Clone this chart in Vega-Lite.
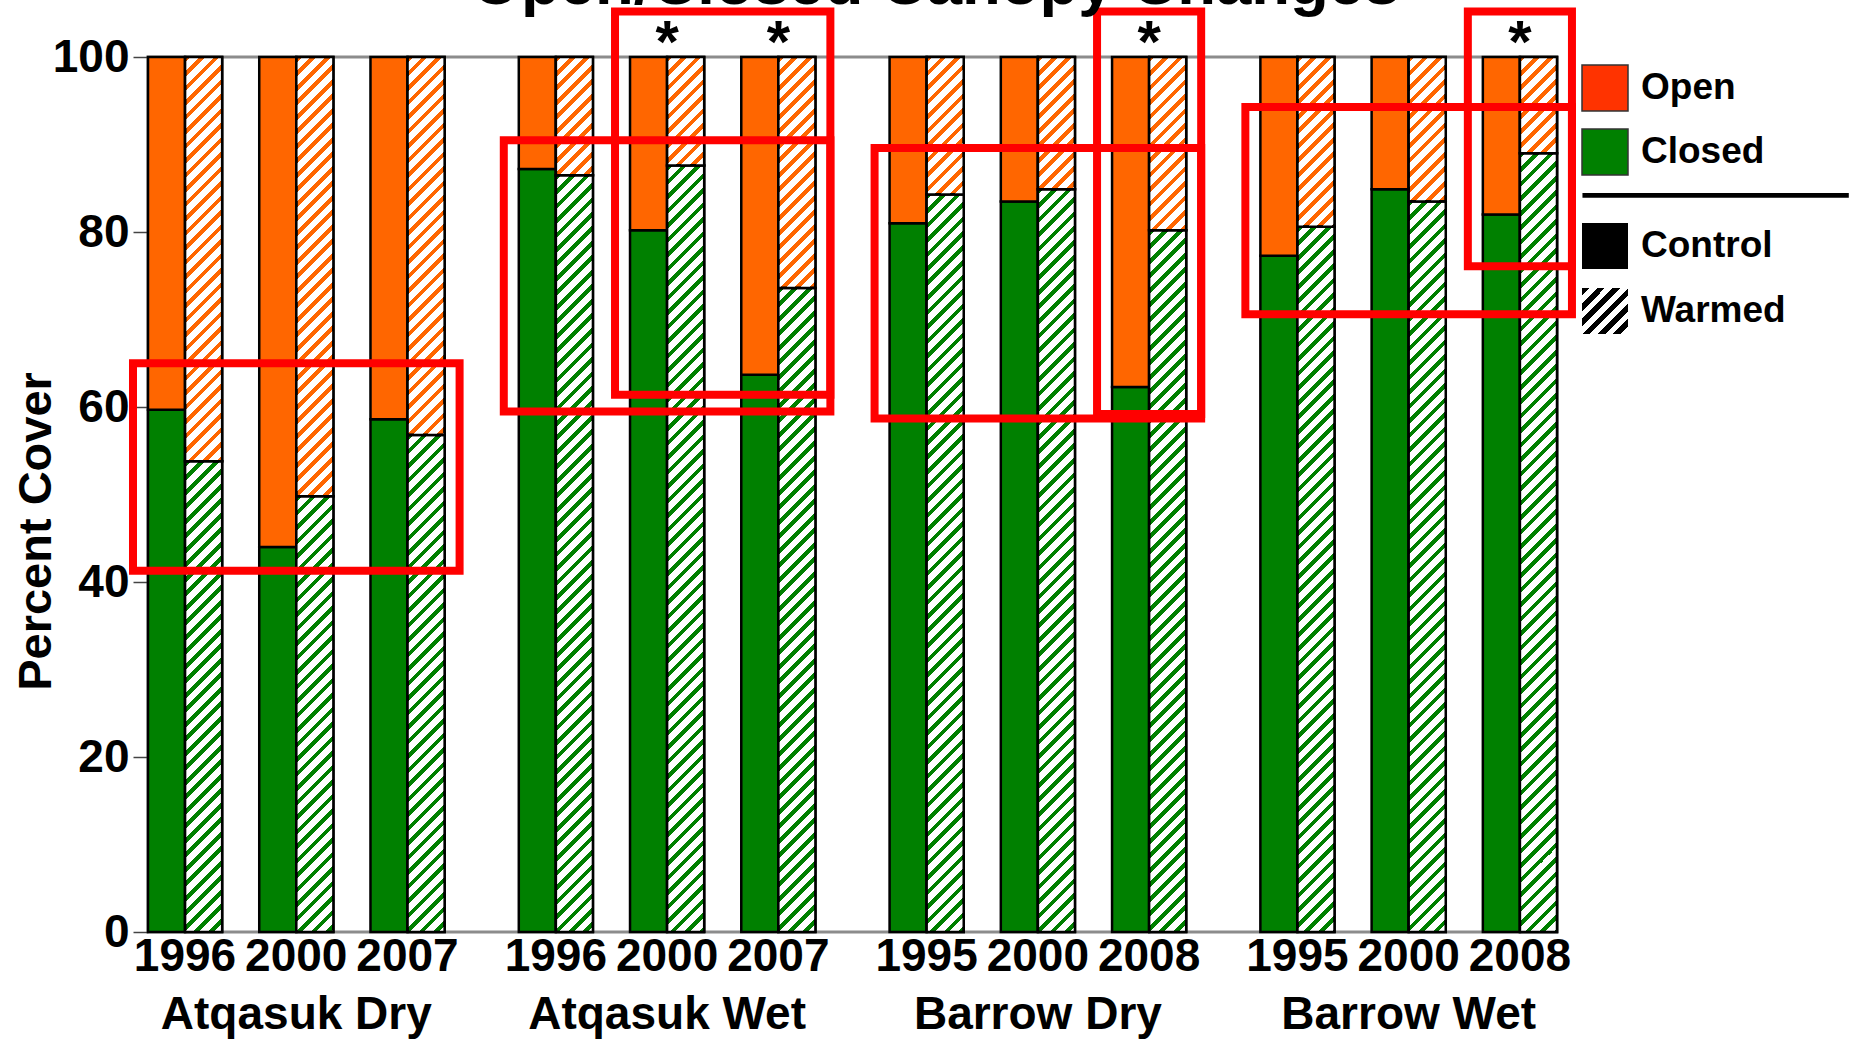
{
  "$schema": "https://vega.github.io/schema/vega-lite/v6.json",
  "width": 1409,
  "height": 875,
  "autosize": {"type": "none"},
  "padding": {"left": 148, "top": 57, "right": 303, "bottom": 112},
  "background": "white",
  "config": {
    "font": "Liberation Sans",
    "view": {"stroke": "#8c8c8c", "strokeWidth": 3}
  },
  "title": {
    "text": "Open/Closed Canopy Changes",
    "font": "Liberation Sans",
    "fontSize": 63.5,
    "fontWeight": "bold",
    "color": "black",
    "anchor": "middle",
    "frame": "group",
    "offset": -60,
    "baseline": "alphabetic",
    "dx": 83
  },
  "resolve": {"scale": {"color": "independent"}},
  "params": [
    {
      "name": "hatch",
      "value": [
        {"offset": 0, "color": "rgba(255,255,255,0)"}, {"offset": 0.0069, "color": "rgba(255,255,255,0)"}, {"offset": 0.0069, "color": "#fff"}, {"offset": 0.0172, "color": "#fff"},
        {"offset": 0.0172, "color": "rgba(255,255,255,0)"}, {"offset": 0.0241, "color": "rgba(255,255,255,0)"}, {"offset": 0.0241, "color": "#fff"}, {"offset": 0.0345, "color": "#fff"},
        {"offset": 0.0345, "color": "rgba(255,255,255,0)"}, {"offset": 0.0414, "color": "rgba(255,255,255,0)"}, {"offset": 0.0414, "color": "#fff"}, {"offset": 0.0517, "color": "#fff"},
        {"offset": 0.0517, "color": "rgba(255,255,255,0)"}, {"offset": 0.0586, "color": "rgba(255,255,255,0)"}, {"offset": 0.0586, "color": "#fff"}, {"offset": 0.069, "color": "#fff"},
        {"offset": 0.069, "color": "rgba(255,255,255,0)"}, {"offset": 0.0759, "color": "rgba(255,255,255,0)"}, {"offset": 0.0759, "color": "#fff"}, {"offset": 0.0862, "color": "#fff"},
        {"offset": 0.0862, "color": "rgba(255,255,255,0)"}, {"offset": 0.0931, "color": "rgba(255,255,255,0)"}, {"offset": 0.0931, "color": "#fff"}, {"offset": 0.1034, "color": "#fff"},
        {"offset": 0.1034, "color": "rgba(255,255,255,0)"}, {"offset": 0.1103, "color": "rgba(255,255,255,0)"}, {"offset": 0.1103, "color": "#fff"}, {"offset": 0.1207, "color": "#fff"},
        {"offset": 0.1207, "color": "rgba(255,255,255,0)"}, {"offset": 0.1276, "color": "rgba(255,255,255,0)"}, {"offset": 0.1276, "color": "#fff"}, {"offset": 0.1379, "color": "#fff"},
        {"offset": 0.1379, "color": "rgba(255,255,255,0)"}, {"offset": 0.1448, "color": "rgba(255,255,255,0)"}, {"offset": 0.1448, "color": "#fff"}, {"offset": 0.1552, "color": "#fff"},
        {"offset": 0.1552, "color": "rgba(255,255,255,0)"}, {"offset": 0.1621, "color": "rgba(255,255,255,0)"}, {"offset": 0.1621, "color": "#fff"}, {"offset": 0.1724, "color": "#fff"},
        {"offset": 0.1724, "color": "rgba(255,255,255,0)"}, {"offset": 0.1793, "color": "rgba(255,255,255,0)"}, {"offset": 0.1793, "color": "#fff"}, {"offset": 0.1897, "color": "#fff"},
        {"offset": 0.1897, "color": "rgba(255,255,255,0)"}, {"offset": 0.1966, "color": "rgba(255,255,255,0)"}, {"offset": 0.1966, "color": "#fff"}, {"offset": 0.2069, "color": "#fff"},
        {"offset": 0.2069, "color": "rgba(255,255,255,0)"}, {"offset": 0.2138, "color": "rgba(255,255,255,0)"}, {"offset": 0.2138, "color": "#fff"}, {"offset": 0.2241, "color": "#fff"},
        {"offset": 0.2241, "color": "rgba(255,255,255,0)"}, {"offset": 0.231, "color": "rgba(255,255,255,0)"}, {"offset": 0.231, "color": "#fff"}, {"offset": 0.2414, "color": "#fff"},
        {"offset": 0.2414, "color": "rgba(255,255,255,0)"}, {"offset": 0.2483, "color": "rgba(255,255,255,0)"}, {"offset": 0.2483, "color": "#fff"}, {"offset": 0.2586, "color": "#fff"},
        {"offset": 0.2586, "color": "rgba(255,255,255,0)"}, {"offset": 0.2655, "color": "rgba(255,255,255,0)"}, {"offset": 0.2655, "color": "#fff"}, {"offset": 0.2759, "color": "#fff"},
        {"offset": 0.2759, "color": "rgba(255,255,255,0)"}, {"offset": 0.2828, "color": "rgba(255,255,255,0)"}, {"offset": 0.2828, "color": "#fff"}, {"offset": 0.2931, "color": "#fff"},
        {"offset": 0.2931, "color": "rgba(255,255,255,0)"}, {"offset": 0.3, "color": "rgba(255,255,255,0)"}, {"offset": 0.3, "color": "#fff"}, {"offset": 0.3103, "color": "#fff"},
        {"offset": 0.3103, "color": "rgba(255,255,255,0)"}, {"offset": 0.3172, "color": "rgba(255,255,255,0)"}, {"offset": 0.3172, "color": "#fff"}, {"offset": 0.3276, "color": "#fff"},
        {"offset": 0.3276, "color": "rgba(255,255,255,0)"}, {"offset": 0.3345, "color": "rgba(255,255,255,0)"}, {"offset": 0.3345, "color": "#fff"}, {"offset": 0.3448, "color": "#fff"},
        {"offset": 0.3448, "color": "rgba(255,255,255,0)"}, {"offset": 0.3517, "color": "rgba(255,255,255,0)"}, {"offset": 0.3517, "color": "#fff"}, {"offset": 0.3621, "color": "#fff"},
        {"offset": 0.3621, "color": "rgba(255,255,255,0)"}, {"offset": 0.369, "color": "rgba(255,255,255,0)"}, {"offset": 0.369, "color": "#fff"}, {"offset": 0.3793, "color": "#fff"},
        {"offset": 0.3793, "color": "rgba(255,255,255,0)"}, {"offset": 0.3862, "color": "rgba(255,255,255,0)"}, {"offset": 0.3862, "color": "#fff"}, {"offset": 0.3966, "color": "#fff"},
        {"offset": 0.3966, "color": "rgba(255,255,255,0)"}, {"offset": 0.4034, "color": "rgba(255,255,255,0)"}, {"offset": 0.4034, "color": "#fff"}, {"offset": 0.4138, "color": "#fff"},
        {"offset": 0.4138, "color": "rgba(255,255,255,0)"}, {"offset": 0.4207, "color": "rgba(255,255,255,0)"}, {"offset": 0.4207, "color": "#fff"}, {"offset": 0.431, "color": "#fff"},
        {"offset": 0.431, "color": "rgba(255,255,255,0)"}, {"offset": 0.4379, "color": "rgba(255,255,255,0)"}, {"offset": 0.4379, "color": "#fff"}, {"offset": 0.4483, "color": "#fff"},
        {"offset": 0.4483, "color": "rgba(255,255,255,0)"}, {"offset": 0.4552, "color": "rgba(255,255,255,0)"}, {"offset": 0.4552, "color": "#fff"}, {"offset": 0.4655, "color": "#fff"},
        {"offset": 0.4655, "color": "rgba(255,255,255,0)"}, {"offset": 0.4724, "color": "rgba(255,255,255,0)"}, {"offset": 0.4724, "color": "#fff"}, {"offset": 0.4828, "color": "#fff"},
        {"offset": 0.4828, "color": "rgba(255,255,255,0)"}, {"offset": 0.4897, "color": "rgba(255,255,255,0)"}, {"offset": 0.4897, "color": "#fff"}, {"offset": 0.5, "color": "#fff"},
        {"offset": 0.5, "color": "rgba(255,255,255,0)"}, {"offset": 0.5069, "color": "rgba(255,255,255,0)"}, {"offset": 0.5069, "color": "#fff"}, {"offset": 0.5172, "color": "#fff"},
        {"offset": 0.5172, "color": "rgba(255,255,255,0)"}, {"offset": 0.5241, "color": "rgba(255,255,255,0)"}, {"offset": 0.5241, "color": "#fff"}, {"offset": 0.5345, "color": "#fff"},
        {"offset": 0.5345, "color": "rgba(255,255,255,0)"}, {"offset": 0.5414, "color": "rgba(255,255,255,0)"}, {"offset": 0.5414, "color": "#fff"}, {"offset": 0.5517, "color": "#fff"},
        {"offset": 0.5517, "color": "rgba(255,255,255,0)"}, {"offset": 0.5586, "color": "rgba(255,255,255,0)"}, {"offset": 0.5586, "color": "#fff"}, {"offset": 0.569, "color": "#fff"},
        {"offset": 0.569, "color": "rgba(255,255,255,0)"}, {"offset": 0.5759, "color": "rgba(255,255,255,0)"}, {"offset": 0.5759, "color": "#fff"}, {"offset": 0.5862, "color": "#fff"},
        {"offset": 0.5862, "color": "rgba(255,255,255,0)"}, {"offset": 0.5931, "color": "rgba(255,255,255,0)"}, {"offset": 0.5931, "color": "#fff"}, {"offset": 0.6034, "color": "#fff"},
        {"offset": 0.6034, "color": "rgba(255,255,255,0)"}, {"offset": 0.6103, "color": "rgba(255,255,255,0)"}, {"offset": 0.6103, "color": "#fff"}, {"offset": 0.6207, "color": "#fff"},
        {"offset": 0.6207, "color": "rgba(255,255,255,0)"}, {"offset": 0.6276, "color": "rgba(255,255,255,0)"}, {"offset": 0.6276, "color": "#fff"}, {"offset": 0.6379, "color": "#fff"},
        {"offset": 0.6379, "color": "rgba(255,255,255,0)"}, {"offset": 0.6448, "color": "rgba(255,255,255,0)"}, {"offset": 0.6448, "color": "#fff"}, {"offset": 0.6552, "color": "#fff"},
        {"offset": 0.6552, "color": "rgba(255,255,255,0)"}, {"offset": 0.6621, "color": "rgba(255,255,255,0)"}, {"offset": 0.6621, "color": "#fff"}, {"offset": 0.6724, "color": "#fff"},
        {"offset": 0.6724, "color": "rgba(255,255,255,0)"}, {"offset": 0.6793, "color": "rgba(255,255,255,0)"}, {"offset": 0.6793, "color": "#fff"}, {"offset": 0.6897, "color": "#fff"},
        {"offset": 0.6897, "color": "rgba(255,255,255,0)"}, {"offset": 0.6966, "color": "rgba(255,255,255,0)"}, {"offset": 0.6966, "color": "#fff"}, {"offset": 0.7069, "color": "#fff"},
        {"offset": 0.7069, "color": "rgba(255,255,255,0)"}, {"offset": 0.7138, "color": "rgba(255,255,255,0)"}, {"offset": 0.7138, "color": "#fff"}, {"offset": 0.7241, "color": "#fff"},
        {"offset": 0.7241, "color": "rgba(255,255,255,0)"}, {"offset": 0.731, "color": "rgba(255,255,255,0)"}, {"offset": 0.731, "color": "#fff"}, {"offset": 0.7414, "color": "#fff"},
        {"offset": 0.7414, "color": "rgba(255,255,255,0)"}, {"offset": 0.7483, "color": "rgba(255,255,255,0)"}, {"offset": 0.7483, "color": "#fff"}, {"offset": 0.7586, "color": "#fff"},
        {"offset": 0.7586, "color": "rgba(255,255,255,0)"}, {"offset": 0.7655, "color": "rgba(255,255,255,0)"}, {"offset": 0.7655, "color": "#fff"}, {"offset": 0.7759, "color": "#fff"},
        {"offset": 0.7759, "color": "rgba(255,255,255,0)"}, {"offset": 0.7828, "color": "rgba(255,255,255,0)"}, {"offset": 0.7828, "color": "#fff"}, {"offset": 0.7931, "color": "#fff"},
        {"offset": 0.7931, "color": "rgba(255,255,255,0)"}, {"offset": 0.8, "color": "rgba(255,255,255,0)"}, {"offset": 0.8, "color": "#fff"}, {"offset": 0.8103, "color": "#fff"},
        {"offset": 0.8103, "color": "rgba(255,255,255,0)"}, {"offset": 0.8172, "color": "rgba(255,255,255,0)"}, {"offset": 0.8172, "color": "#fff"}, {"offset": 0.8276, "color": "#fff"},
        {"offset": 0.8276, "color": "rgba(255,255,255,0)"}, {"offset": 0.8345, "color": "rgba(255,255,255,0)"}, {"offset": 0.8345, "color": "#fff"}, {"offset": 0.8448, "color": "#fff"},
        {"offset": 0.8448, "color": "rgba(255,255,255,0)"}, {"offset": 0.8517, "color": "rgba(255,255,255,0)"}, {"offset": 0.8517, "color": "#fff"}, {"offset": 0.8621, "color": "#fff"},
        {"offset": 0.8621, "color": "rgba(255,255,255,0)"}, {"offset": 0.869, "color": "rgba(255,255,255,0)"}, {"offset": 0.869, "color": "#fff"}, {"offset": 0.8793, "color": "#fff"},
        {"offset": 0.8793, "color": "rgba(255,255,255,0)"}, {"offset": 0.8862, "color": "rgba(255,255,255,0)"}, {"offset": 0.8862, "color": "#fff"}, {"offset": 0.8966, "color": "#fff"},
        {"offset": 0.8966, "color": "rgba(255,255,255,0)"}, {"offset": 0.9034, "color": "rgba(255,255,255,0)"}, {"offset": 0.9034, "color": "#fff"}, {"offset": 0.9138, "color": "#fff"},
        {"offset": 0.9138, "color": "rgba(255,255,255,0)"}, {"offset": 0.9207, "color": "rgba(255,255,255,0)"}, {"offset": 0.9207, "color": "#fff"}, {"offset": 0.931, "color": "#fff"},
        {"offset": 0.931, "color": "rgba(255,255,255,0)"}, {"offset": 0.9379, "color": "rgba(255,255,255,0)"}, {"offset": 0.9379, "color": "#fff"}, {"offset": 0.9483, "color": "#fff"},
        {"offset": 0.9483, "color": "rgba(255,255,255,0)"}, {"offset": 0.9552, "color": "rgba(255,255,255,0)"}, {"offset": 0.9552, "color": "#fff"}, {"offset": 0.9655, "color": "#fff"},
        {"offset": 0.9655, "color": "rgba(255,255,255,0)"}, {"offset": 0.9724, "color": "rgba(255,255,255,0)"}, {"offset": 0.9724, "color": "#fff"}, {"offset": 0.9828, "color": "#fff"},
        {"offset": 0.9828, "color": "rgba(255,255,255,0)"}, {"offset": 0.9897, "color": "rgba(255,255,255,0)"}, {"offset": 0.9897, "color": "#fff"}, {"offset": 1, "color": "#fff"}
      ]
    },
    {
      "name": "legendHatch",
      "value": [
        {"offset": 0, "color": "black"}, {"offset": 0.0833, "color": "black"}, {"offset": 0.0833, "color": "white"}, {"offset": 0.1667, "color": "white"},
        {"offset": 0.1667, "color": "black"}, {"offset": 0.25, "color": "black"}, {"offset": 0.25, "color": "white"}, {"offset": 0.3333, "color": "white"},
        {"offset": 0.3333, "color": "black"}, {"offset": 0.4167, "color": "black"}, {"offset": 0.4167, "color": "white"}, {"offset": 0.5, "color": "white"},
        {"offset": 0.5, "color": "black"}, {"offset": 0.5833, "color": "black"}, {"offset": 0.5833, "color": "white"}, {"offset": 0.6667, "color": "white"},
        {"offset": 0.6667, "color": "black"}, {"offset": 0.75, "color": "black"}, {"offset": 0.75, "color": "white"}, {"offset": 0.8333, "color": "white"},
        {"offset": 0.8333, "color": "black"}, {"offset": 0.9167, "color": "black"}, {"offset": 0.9167, "color": "white"}, {"offset": 1, "color": "white"}
      ]
    }
  ],
  "datasets": {
    "cover": [
      {"site": "Atqasuk Dry", "year": "1996", "treatment": "Control", "cover": "Closed", "pct": 59.7},
      {"site": "Atqasuk Dry", "year": "1996", "treatment": "Control", "cover": "Open", "pct": 40.3},
      {"site": "Atqasuk Dry", "year": "1996", "treatment": "Warmed", "cover": "Closed", "pct": 53.8},
      {"site": "Atqasuk Dry", "year": "1996", "treatment": "Warmed", "cover": "Open", "pct": 46.2},
      {"site": "Atqasuk Dry", "year": "2000", "treatment": "Control", "cover": "Closed", "pct": 44.0},
      {"site": "Atqasuk Dry", "year": "2000", "treatment": "Control", "cover": "Open", "pct": 56.0},
      {"site": "Atqasuk Dry", "year": "2000", "treatment": "Warmed", "cover": "Closed", "pct": 49.8},
      {"site": "Atqasuk Dry", "year": "2000", "treatment": "Warmed", "cover": "Open", "pct": 50.2},
      {"site": "Atqasuk Dry", "year": "2007", "treatment": "Control", "cover": "Closed", "pct": 58.6},
      {"site": "Atqasuk Dry", "year": "2007", "treatment": "Control", "cover": "Open", "pct": 41.4},
      {"site": "Atqasuk Dry", "year": "2007", "treatment": "Warmed", "cover": "Closed", "pct": 56.8},
      {"site": "Atqasuk Dry", "year": "2007", "treatment": "Warmed", "cover": "Open", "pct": 43.2},
      {"site": "Atqasuk Wet", "year": "1996", "treatment": "Control", "cover": "Closed", "pct": 87.2},
      {"site": "Atqasuk Wet", "year": "1996", "treatment": "Control", "cover": "Open", "pct": 12.8},
      {"site": "Atqasuk Wet", "year": "1996", "treatment": "Warmed", "cover": "Closed", "pct": 86.5},
      {"site": "Atqasuk Wet", "year": "1996", "treatment": "Warmed", "cover": "Open", "pct": 13.5},
      {"site": "Atqasuk Wet", "year": "2000", "treatment": "Control", "cover": "Closed", "pct": 80.2},
      {"site": "Atqasuk Wet", "year": "2000", "treatment": "Control", "cover": "Open", "pct": 19.8},
      {"site": "Atqasuk Wet", "year": "2000", "treatment": "Warmed", "cover": "Closed", "pct": 87.6},
      {"site": "Atqasuk Wet", "year": "2000", "treatment": "Warmed", "cover": "Open", "pct": 12.4},
      {"site": "Atqasuk Wet", "year": "2007", "treatment": "Control", "cover": "Closed", "pct": 63.7},
      {"site": "Atqasuk Wet", "year": "2007", "treatment": "Control", "cover": "Open", "pct": 36.3},
      {"site": "Atqasuk Wet", "year": "2007", "treatment": "Warmed", "cover": "Closed", "pct": 73.6},
      {"site": "Atqasuk Wet", "year": "2007", "treatment": "Warmed", "cover": "Open", "pct": 26.4},
      {"site": "Barrow Dry", "year": "1995", "treatment": "Control", "cover": "Closed", "pct": 81.0},
      {"site": "Barrow Dry", "year": "1995", "treatment": "Control", "cover": "Open", "pct": 19.0},
      {"site": "Barrow Dry", "year": "1995", "treatment": "Warmed", "cover": "Closed", "pct": 84.3},
      {"site": "Barrow Dry", "year": "1995", "treatment": "Warmed", "cover": "Open", "pct": 15.7},
      {"site": "Barrow Dry", "year": "2000", "treatment": "Control", "cover": "Closed", "pct": 83.5},
      {"site": "Barrow Dry", "year": "2000", "treatment": "Control", "cover": "Open", "pct": 16.5},
      {"site": "Barrow Dry", "year": "2000", "treatment": "Warmed", "cover": "Closed", "pct": 84.9},
      {"site": "Barrow Dry", "year": "2000", "treatment": "Warmed", "cover": "Open", "pct": 15.1},
      {"site": "Barrow Dry", "year": "2008", "treatment": "Control", "cover": "Closed", "pct": 62.3},
      {"site": "Barrow Dry", "year": "2008", "treatment": "Control", "cover": "Open", "pct": 37.7},
      {"site": "Barrow Dry", "year": "2008", "treatment": "Warmed", "cover": "Closed", "pct": 80.2},
      {"site": "Barrow Dry", "year": "2008", "treatment": "Warmed", "cover": "Open", "pct": 19.8},
      {"site": "Barrow Wet", "year": "1995", "treatment": "Control", "cover": "Closed", "pct": 77.3},
      {"site": "Barrow Wet", "year": "1995", "treatment": "Control", "cover": "Open", "pct": 22.7},
      {"site": "Barrow Wet", "year": "1995", "treatment": "Warmed", "cover": "Closed", "pct": 80.6},
      {"site": "Barrow Wet", "year": "1995", "treatment": "Warmed", "cover": "Open", "pct": 19.4},
      {"site": "Barrow Wet", "year": "2000", "treatment": "Control", "cover": "Closed", "pct": 84.9},
      {"site": "Barrow Wet", "year": "2000", "treatment": "Control", "cover": "Open", "pct": 15.1},
      {"site": "Barrow Wet", "year": "2000", "treatment": "Warmed", "cover": "Closed", "pct": 83.5},
      {"site": "Barrow Wet", "year": "2000", "treatment": "Warmed", "cover": "Open", "pct": 16.5},
      {"site": "Barrow Wet", "year": "2008", "treatment": "Control", "cover": "Closed", "pct": 82.0},
      {"site": "Barrow Wet", "year": "2008", "treatment": "Control", "cover": "Open", "pct": 18.0},
      {"site": "Barrow Wet", "year": "2008", "treatment": "Warmed", "cover": "Closed", "pct": 89.0},
      {"site": "Barrow Wet", "year": "2008", "treatment": "Warmed", "cover": "Open", "pct": 11.0}
    ],
    "significant": [
      {"site": "Atqasuk Wet", "year": "2000", "flag": "*"},
      {"site": "Atqasuk Wet", "year": "2007", "flag": "*"},
      {"site": "Barrow Dry", "year": "2008", "flag": "*"},
      {"site": "Barrow Wet", "year": "2008", "flag": "*"}
    ],
    "highlights": [
      {"site": "Atqasuk Dry", "first": "1996", "last": "2007", "top": 65.0, "bottom": 41.3},
      {"site": "Atqasuk Wet", "first": "1996", "last": "2007", "top": 90.5, "bottom": 59.5},
      {"site": "Atqasuk Wet", "first": "2000", "last": "2007", "top": 105.2, "bottom": 61.4},
      {"site": "Barrow Dry", "first": "1995", "last": "2008", "top": 89.6, "bottom": 58.7},
      {"site": "Barrow Dry", "first": "2008", "last": "2008", "top": 105.2, "bottom": 59.2},
      {"site": "Barrow Wet", "first": "1995", "last": "2008", "top": 94.3, "bottom": 70.6},
      {"site": "Barrow Wet", "first": "2008", "last": "2008", "top": 105.2, "bottom": 76.1}
    ]
  },
  "layer": [
    {
      "data": {"name": "cover"},
      "transform": [
        {"calculate": "datum.site + '|' + datum.year + '|' + datum.treatment", "as": "bar"}
      ],
      "mark": {"type": "bar", "stroke": "black", "strokeWidth": 2.5},
      "encoding": {
        "x": {
          "field": "bar",
          "type": "nominal",
          "scale": {
            "domain": [
              "Atqasuk Dry|1996|Control", "Atqasuk Dry|1996|Warmed", "gap 1",
              "Atqasuk Dry|2000|Control", "Atqasuk Dry|2000|Warmed", "gap 2",
              "Atqasuk Dry|2007|Control", "Atqasuk Dry|2007|Warmed", "gap 3", "gap 4",
              "Atqasuk Wet|1996|Control", "Atqasuk Wet|1996|Warmed", "gap 5",
              "Atqasuk Wet|2000|Control", "Atqasuk Wet|2000|Warmed", "gap 6",
              "Atqasuk Wet|2007|Control", "Atqasuk Wet|2007|Warmed", "gap 7", "gap 8",
              "Barrow Dry|1995|Control", "Barrow Dry|1995|Warmed", "gap 9",
              "Barrow Dry|2000|Control", "Barrow Dry|2000|Warmed", "gap 10",
              "Barrow Dry|2008|Control", "Barrow Dry|2008|Warmed", "gap 11", "gap 12",
              "Barrow Wet|1995|Control", "Barrow Wet|1995|Warmed", "gap 13",
              "Barrow Wet|2000|Control", "Barrow Wet|2000|Warmed", "gap 14",
              "Barrow Wet|2008|Control", "Barrow Wet|2008|Warmed"
            ],
            "paddingInner": 0,
            "paddingOuter": 0
          },
          "axis": {
            "title": null,
            "domain": false,
            "ticks": false,
            "tickSize": 0,
            "labelAngle": 0,
            "labelExpr": "indexof(datum.value, '|Control') > 0 ? slice(datum.value, -12, -8) : ''",
            "labelOffset": 18.5,
            "labelPadding": 38,
            "labelBaseline": "alphabetic",
            "labelFont": "Liberation Sans",
            "labelFontSize": 46,
            "labelFontWeight": "bold",
            "labelColor": "black",
            "labelOverlap": false,
            "labelBound": false,
            "labelLimit": 0
          }
        },
        "y": {
          "field": "pct",
          "type": "quantitative",
          "stack": "zero",
          "scale": {"domain": [0, 100], "nice": false, "zero": true},
          "axis": {
            "values": [0, 20, 40, 60, 80, 100],
            "grid": false,
            "domain": false,
            "tickSize": 15,
            "tickColor": "#444",
            "tickWidth": 1.5,
            "labelFont": "Liberation Sans",
            "labelFontSize": 46,
            "labelFontWeight": "bold",
            "labelColor": "black",
            "labelPadding": 4,
            "title": "Percent Cover",
            "titleFont": "Liberation Sans",
            "titleFontSize": 47,
            "titleFontWeight": "bold",
            "titleColor": "black",
            "titleAngle": -90,
            "titleAlign": "center",
            "titleBaseline": "alphabetic",
            "titleX": -98,
            "titleY": 474
          }
        },
        "color": {
          "field": "cover",
          "type": "nominal",
          "scale": {"domain": ["Open", "Closed"], "range": ["#ff6600", "#008000"]},
          "legend": null
        },
        "order": {"field": "cover", "type": "nominal", "sort": "ascending"}
      }
    },
    {
      "data": {"name": "cover"},
      "transform": [
        {"filter": "datum.treatment === 'Warmed'"},
        {"calculate": "datum.site + '|' + datum.year + '|' + datum.treatment", "as": "bar"}
      ],
      "mark": {
        "type": "bar",
        "stroke": "black",
        "strokeWidth": 2.5,
        "fill": {"expr": "{gradient: 'linear', x1: 0, y1: 0, x2: 841 * bandwidth('x') / (bandwidth('x') * bandwidth('x') + pow(scale('y', datum.pct_start) - scale('y', datum.pct_end), 2)), y2: 841 * (scale('y', datum.pct_start) - scale('y', datum.pct_end)) / (bandwidth('x') * bandwidth('x') + pow(scale('y', datum.pct_start) - scale('y', datum.pct_end), 2)), stops: hatch}"}
      },
      "encoding": {
        "x": {"field": "bar", "type": "nominal"},
        "y": {"field": "pct", "type": "quantitative", "stack": "zero"},
        "detail": {"field": "cover", "type": "nominal"},
        "order": {"field": "cover", "type": "nominal", "sort": "ascending"}
      }
    },
    {
      "data": {"name": "cover"},
      "transform": [
        {"filter": "datum.treatment === 'Control'"},
        {"calculate": "datum.site + '|' + datum.year + '|' + datum.treatment", "as": "bar"}
      ],
      "mark": {"type": "point", "filled": true, "opacity": 0, "size": 2116, "shape": "square"},
      "encoding": {
        "x": {"field": "bar", "type": "nominal"},
        "y": {"field": "pct", "type": "quantitative", "stack": null},
        "color": {
          "field": "cover",
          "type": "nominal",
          "scale": {"domain": ["Open", "Closed"], "range": ["#ff3300", "#008000"]},
          "legend": {
            "orient": "none",
            "legendX": 1433,
            "legendY": 7,
            "title": null,
            "padding": 0,
            "symbolType": "square",
            "symbolSize": 2116,
            "symbolStrokeColor": "#333",
            "symbolStrokeWidth": 1.5,
            "symbolOpacity": 1,
            "labelFont": "Liberation Sans",
            "labelFontSize": 37,
            "labelFontWeight": "bold",
            "labelColor": "black",
            "labelOffset": 12,
            "rowPadding": 12
          }
        }
      }
    },
    {
      "data": {"name": "cover"},
      "transform": [
        {"filter": "datum.cover === 'Closed'"},
        {"calculate": "datum.site + '|' + datum.year + '|' + datum.treatment", "as": "bar"}
      ],
      "mark": {"type": "point", "filled": true, "opacity": 0, "size": 2116},
      "encoding": {
        "x": {"field": "bar", "type": "nominal"},
        "y": {"field": "pct", "type": "quantitative", "stack": null},
        "fill": {
          "field": "treatment",
          "type": "nominal",
          "scale": {
            "domain": ["Control", "Warmed"],
            "range": ["black", {"expr": "{gradient: 'linear', x1: 0, y1: 0, x2: 1, y2: 1, stops: legendHatch}"}]
          },
          "legend": {
            "orient": "none",
            "legendX": 1433,
            "legendY": 165,
            "title": null,
            "padding": 0,
            "symbolSize": 2116,
            "symbolStrokeColor": "#444",
            "symbolStrokeWidth": 1.5,
            "symbolOpacity": 1,
            "labelFont": "Liberation Sans",
            "labelFontSize": 37,
            "labelFontWeight": "bold",
            "labelColor": "black",
            "labelOffset": 12,
            "rowPadding": 13
          }
        },
        "shape": {
          "field": "treatment",
          "type": "nominal",
          "scale": {
            "domain": ["Control", "Warmed"],
            "range": ["M-1,-1H1V1H-1Z M-0.98,-2.3H10.6V-2.1H-0.98Z", "square"]
          },
          "legend": {
            "orient": "none",
            "legendX": 1433,
            "legendY": 165,
            "title": null,
            "padding": 0,
            "symbolSize": 2116,
            "symbolStrokeColor": "#444",
            "symbolStrokeWidth": 1.5,
            "symbolOpacity": 1,
            "labelFont": "Liberation Sans",
            "labelFontSize": 37,
            "labelFontWeight": "bold",
            "labelColor": "black",
            "labelOffset": 12,
            "rowPadding": 13
          }
        }
      }
    },
    {
      "data": {"name": "cover"},
      "transform": [
        {"filter": "datum.year === '2000' && datum.treatment === 'Control' && datum.cover === 'Closed'"},
        {"calculate": "datum.site + '|' + datum.year + '|' + datum.treatment", "as": "bar"}
      ],
      "mark": {
        "type": "text",
        "font": "Liberation Sans",
        "fontSize": 46,
        "fontWeight": "bold",
        "color": "black",
        "align": "center",
        "baseline": "alphabetic",
        "dy": 97
      },
      "encoding": {
        "x": {"field": "bar", "type": "nominal", "bandPosition": 1},
        "y": {"datum": 0, "type": "quantitative"},
        "text": {"field": "site"}
      }
    },
    {
      "data": {"name": "significant"},
      "transform": [
        {"calculate": "datum.site + '|' + datum.year + '|Control'", "as": "bar"}
      ],
      "mark": {
        "type": "text",
        "font": "Liberation Sans",
        "fontSize": 60,
        "fontWeight": "bold",
        "color": "black",
        "align": "center",
        "baseline": "alphabetic",
        "dy": 5
      },
      "encoding": {
        "x": {"field": "bar", "type": "nominal", "bandPosition": 1},
        "y": {"datum": 100, "type": "quantitative"},
        "text": {"field": "flag"}
      }
    },
    {
      "data": {"name": "highlights"},
      "transform": [
        {"calculate": "datum.site + '|' + datum.first + '|Control'", "as": "from"},
        {"calculate": "datum.site + '|' + datum.last + '|Warmed'", "as": "to"}
      ],
      "mark": {
        "type": "rect",
        "filled": false,
        "stroke": "#ff0000",
        "strokeWidth": 8,
        "xOffset": -15,
        "x2Offset": 33.5
      },
      "encoding": {
        "x": {"field": "from", "type": "nominal", "bandPosition": 0},
        "x2": {"field": "to"},
        "y": {"field": "top", "type": "quantitative"},
        "y2": {"field": "bottom"}
      }
    }
  ]
}
